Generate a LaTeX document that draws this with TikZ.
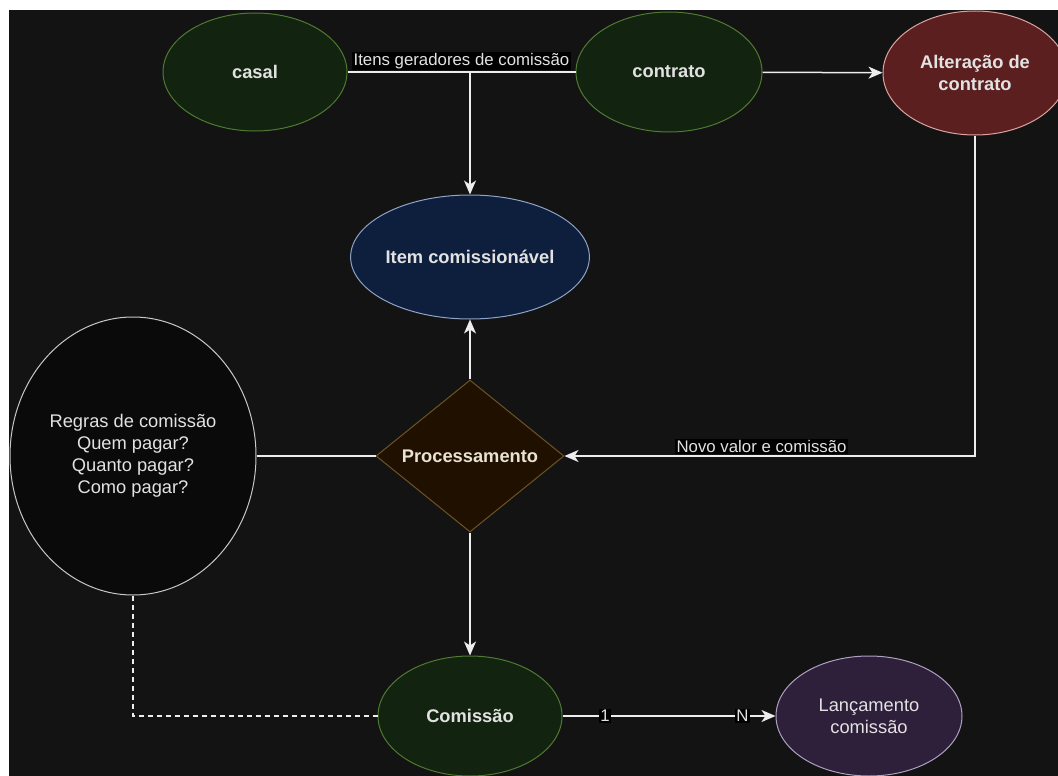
\documentclass[tikz,border=0pt]{standalone}
\usepackage{fontspec}
\setmainfont{Liberation Sans}
\usetikzlibrary{shapes.geometric,arrows.meta}
\definecolor{bg}{HTML}{131313}
\definecolor{gfill}{HTML}{12230F}
\definecolor{gdraw}{HTML}{4F7A32}
\definecolor{rfill}{HTML}{5C1F1F}
\definecolor{rdraw}{HTML}{D9A3A0}
\definecolor{bfill}{HTML}{0E1E3D}
\definecolor{bdraw}{HTML}{8FA3C7}
\definecolor{ofill}{HTML}{1F1000}
\definecolor{odraw}{HTML}{6E5422}
\definecolor{kfill}{HTML}{0A0A0A}
\definecolor{kdraw}{HTML}{C8C8C8}
\definecolor{pfill}{HTML}{2E1F3B}
\definecolor{pdraw}{HTML}{ADA0C0}
\definecolor{txt}{HTML}{E2E2E2}
\definecolor{otxt}{HTML}{EAE2D2}
\definecolor{ln}{HTML}{EDEDED}
\begin{document}
\begin{tikzpicture}[x=1pt,y=-1pt,
  ell/.style={ellipse, draw, line width=1pt, inner sep=0pt, align=center, text=txt,
    font=\fontsize{18.3}{22}\selectfont},
  bold/.style={font=\fontsize{18.3}{22}\selectfont\bfseries},
  green/.style={ell, fill=gfill, draw=gdraw},
  conn/.style={draw=ln, line width=1.5pt},
  arr/.style={conn, -{Stealth[length=14pt,width=12pt,inset=4pt]}},
  lbl/.style={fill=black, text=txt, inner sep=1.5pt, font=\fontsize{16.8}{19}\selectfont},
]
\useasboundingbox (0,0) rectangle (1058,776);
\fill[white] (0,0) rectangle (1058,776);
\fill[bg] (9,10) rectangle (1058,776);

\node[green, bold, minimum width=184pt, minimum height=118pt] (casal) at (255,72) {casal};
\node[green, bold, minimum width=186pt, minimum height=120pt] (contrato) at (669,72) {contrato};
\node[ell, bold, fill=rfill, draw=rdraw, minimum width=184pt, minimum height=124pt] (alter) at (975,73) {Alteração de\\contrato};
\node[ell, bold, fill=bfill, draw=bdraw, minimum width=184pt, minimum height=124pt] (item) at (470,257) {Item comissionável};
\node[diamond, bold, aspect=1.24, draw=odraw, fill=ofill, line width=1pt, inner sep=0pt, minimum width=188pt, minimum height=152pt, text=otxt] (proc) at (470,456) {Processamento};
\node[ell, fill=kfill, draw=kdraw, minimum width=246pt, minimum height=278pt] (regras) at (133,456) {Regras de comissão\\Quem pagar?\\Quanto pagar?\\Como pagar?};
\node[green, bold, minimum width=184pt, minimum height=120pt] (comissao) at (470,716) {Comissão};
\node[ell, fill=pfill, draw=pdraw, minimum width=186pt, minimum height=120pt] (lanc) at (869,716) {Lançamento\\comissão};

\coordinate (j1) at (470,72);
\draw[conn] (casal) -- node[lbl, above=1pt] {Itens geradores de comissão} (contrato);
\draw[arr] (j1) -- (item);
\draw[arr] (contrato) -- (alter);
\draw[arr] (alter.south) |- node[lbl, pos=0.76, above=1pt] {Novo valor e comissão} (proc.east);
\draw[arr] (proc) -- (item);
\draw[conn] (regras) -- (proc);
\draw[arr] (proc) -- (comissao);
\draw[conn, dashed, dash pattern=on 5pt off 4pt] (regras.south) |- (comissao.west);
\draw[arr] (comissao) -- node[lbl, pos=0.2, inner sep=1pt] {1} node[lbl, pos=0.845, inner sep=1pt] {N} (lanc);
\end{tikzpicture}
\end{document}
